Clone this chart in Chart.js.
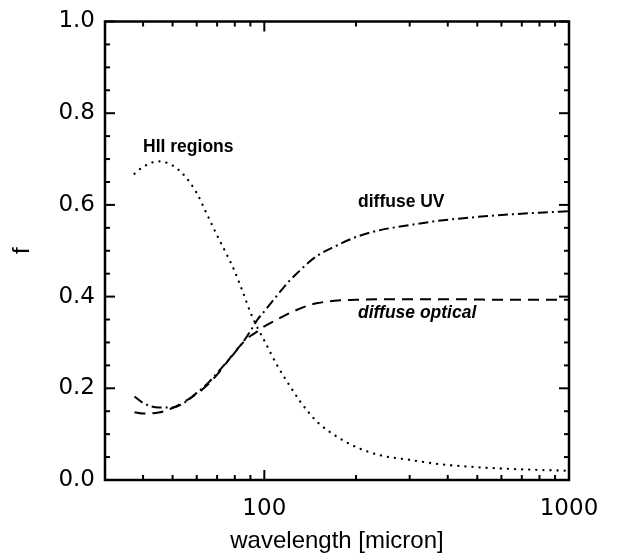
<!DOCTYPE html>
<html>
<head>
<meta charset="utf-8">
<script src="https://cdn.jsdelivr.net/npm/chart.js@4/dist/chart.umd.min.js"></script>
<style>
html,body{margin:0;padding:0;background:#fff;}
#wrap{width:617px;height:560px;}
</style>
</head>
<body>
<div id="wrap"><canvas id="c" width="617" height="560"></canvas></div>
<script>
// ---- data ----
const wavelength = [37.5, 40, 45, 50, 55, 60, 65, 70, 75, 80, 85, 90, 95, 100, 110, 120, 130, 140, 150, 170, 200, 240, 300, 360, 450, 600, 800, 1000];
const hiiRegions = [0.668, 0.683, 0.695, 0.686, 0.662, 0.626, 0.578, 0.533, 0.494, 0.455, 0.410, 0.366, 0.332, 0.304, 0.251, 0.210, 0.175, 0.147, 0.125, 0.098, 0.072, 0.054, 0.044, 0.036, 0.030, 0.025, 0.022, 0.020];
const diffuseUV = [0.182, 0.168, 0.158, 0.158, 0.170, 0.190, 0.210, 0.233, 0.256, 0.278, 0.300, 0.325, 0.350, 0.368, 0.402, 0.432, 0.455, 0.475, 0.490, 0.509, 0.530, 0.545, 0.556, 0.564, 0.571, 0.578, 0.583, 0.586];
const diffuseOptical = [0.148, 0.145, 0.147, 0.157, 0.172, 0.188, 0.207, 0.230, 0.255, 0.279, 0.299, 0.314, 0.324, 0.335, 0.350, 0.363, 0.373, 0.381, 0.386, 0.391, 0.393, 0.394, 0.394, 0.394, 0.394, 0.393, 0.393, 0.393];

const xTickLabels = [100, 1000];
const yTickLabels = [0.0, 0.2, 0.4, 0.6, 0.8, 1.0];
const xMinorTicks = [40, 50, 60, 70, 80, 90, 200, 300, 400, 500, 600, 700, 800, 900];
const yMinorTicks = [0.05, 0.1, 0.15, 0.25, 0.3, 0.35, 0.45, 0.5, 0.55, 0.65, 0.7, 0.75, 0.85, 0.9, 0.95];

const curveLabels = [
  { text: 'HII regions', x: 40, y: 0.716, font: 'bold 17.5px "Liberation Sans", Arial, sans-serif' },
  { text: 'diffuse UV', x: 203, y: 0.595, font: 'bold 17.5px "Liberation Sans", Arial, sans-serif' },
  { text: 'diffuse optical', x: 203, y: 0.353, font: 'italic bold 17.5px "Liberation Sans", Arial, sans-serif' }
];

const pts = (ys) => wavelength.map((w, i) => ({ x: w, y: ys[i] }));

const FONT = '"Liberation Sans", Arial, sans-serif';
const TICKFONT = '"DejaVu Sans", Verdana, sans-serif';

const frameTicks = {
  id: 'frameTicks',
  afterDatasetsDraw(chart) {
    const { ctx, chartArea: a, scales: { x, y } } = chart;
    ctx.save();
    ctx.strokeStyle = '#000';
    ctx.lineCap = 'butt';
    const line = (x1, y1, x2, y2) => { ctx.beginPath(); ctx.moveTo(x1, y1); ctx.lineTo(x2, y2); ctx.stroke(); };
    ctx.lineWidth = 2;
    xTickLabels.forEach(v => { const p = x.getPixelForValue(v); line(p, a.bottom, p, a.bottom - 10); line(p, a.top, p, a.top + 10); });
    xMinorTicks.forEach(v => { const p = x.getPixelForValue(v); line(p, a.bottom, p, a.bottom - 5); line(p, a.top, p, a.top + 5); });
    yTickLabels.forEach(v => { const p = y.getPixelForValue(v); line(a.left, p, a.left + 10, p); line(a.right, p, a.right - 10, p); });
    yMinorTicks.forEach(v => { const p = y.getPixelForValue(v); line(a.left, p, a.left + 5, p); line(a.right, p, a.right - 5, p); });
    ctx.lineWidth = 2.5;
    ctx.strokeRect(a.left, a.top, a.right - a.left, a.bottom - a.top);
    ctx.fillStyle = '#000';
    ctx.textBaseline = 'alphabetic';
    ctx.textAlign = 'left';
    curveLabels.forEach(l => {
      ctx.font = l.font;
      ctx.fillText(l.text, x.getPixelForValue(l.x), y.getPixelForValue(l.y));
    });
    ctx.restore();
  }
};

new Chart(document.getElementById('c'), {
  type: 'scatter',
  data: {
    datasets: [
      { label: 'HII regions', data: pts(hiiRegions), showLine: true, borderColor: '#000', borderWidth: 2.3, borderDash: [0.1, 7], borderCapStyle: 'round', pointRadius: 0, cubicInterpolationMode: 'monotone' },
      { label: 'diffuse UV', data: pts(diffuseUV), showLine: true, borderColor: '#000', borderWidth: 2, borderDash: [10, 4, 2, 4], pointRadius: 0, cubicInterpolationMode: 'monotone' },
      { label: 'diffuse optical', data: pts(diffuseOptical), showLine: true, borderColor: '#000', borderWidth: 2, borderDash: [11, 7], pointRadius: 0, cubicInterpolationMode: 'monotone' }
    ]
  },
  options: {
    responsive: false,
    animation: false,
    events: [],
    layout: { padding: { left: 0, right: 48, top: 12, bottom: 0 } },
    plugins: { legend: { display: false }, tooltip: { enabled: false } },
    scales: {
      x: {
        type: 'logarithmic',
        min: 30, max: 1000,
        grid: { display: false, drawTicks: false },
        border: { display: false },
        afterFit: (s) => { s.height = 80; },
        ticks: {
          autoSkip: false, maxRotation: 0, padding: 18, color: '#000',
          font: { family: TICKFONT, size: 23, lineHeight: 1 },
          callback: (v) => xTickLabels.includes(v) ? String(v) : ''
        },
        title: { display: true, text: 'wavelength [micron]', color: '#000', font: { family: FONT, size: 24, lineHeight: 1 }, padding: { top: 0, bottom: 7 } }
      },
      y: {
        min: 0, max: 1,
        grid: { display: false, drawTicks: false },
        border: { display: false },
        afterFit: (s) => { s.width = 105; },
        afterBuildTicks: (s) => { s.ticks = yTickLabels.map(v => ({ value: v })); },
        ticks: {
          padding: 10, color: '#000',
          font: { family: TICKFONT, size: 23, lineHeight: 1 },
          callback: (v) => Number(v).toFixed(1)
        },
        title: { display: true, text: 'f', color: '#000', font: { family: FONT, size: 24, lineHeight: 1 }, padding: { top: 10, bottom: 0 } }
      }
    }
  },
  plugins: [frameTicks]
});
</script>
</body>
</html>
